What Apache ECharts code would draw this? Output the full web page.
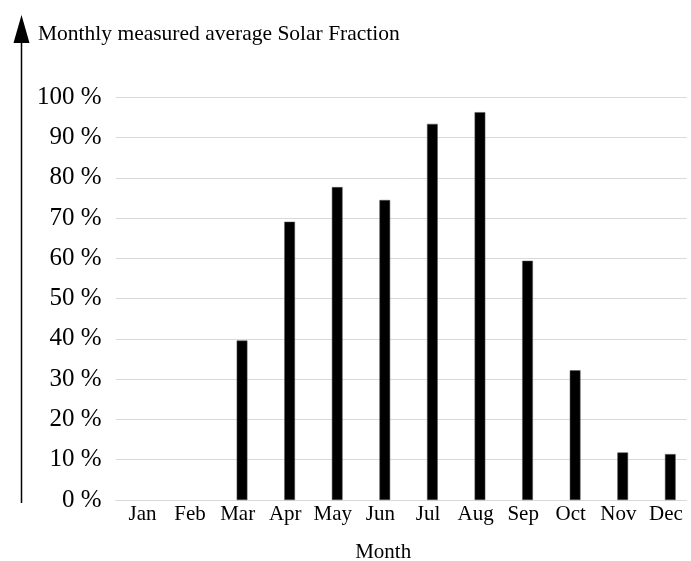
<!DOCTYPE html>
<html>
<head>
<meta charset="utf-8">
<script src="https://cdn.jsdelivr.net/npm/echarts@6/dist/echarts.min.js"></script>
<style>
html,body{margin:0;padding:0;background:#fff;}
#chart{width:691px;height:561px;}
</style>
</head>
<body>
<div id="chart"></div>
<script>
var months = ['Jan','Feb','Mar','Apr','May','Jun','Jul','Aug','Sep','Oct','Nov','Dec'];
var solarFraction = [null, null, 39.6, 69.1, 77.7, 74.5, 93.4, 96.3, 59.4, 32.2, 11.8, 11.4];
var emptySeries = [];
var yTicks = [0, 100, 10];

var FONT = '"Liberation Serif", "Times New Roman", serif';
var chart = echarts.init(document.getElementById('chart'), null, {renderer: 'canvas'});
chart.setOption({
  animation: false,
  backgroundColor: '#ffffff',
  title: {
    text: 'Monthly measured average Solar Fraction',
    left: 33,
    top: 18,
    textStyle: {fontFamily: FONT, fontSize: 21.5, fontWeight: 'normal', color: '#000'}
  },
  grid: {left: 115.7, right: 4.3, top: 97.3, bottom: 61, containLabel: false, outerBoundsMode: 'none'},
  xAxis: {
    type: 'category',
    data: months,
    axisLine: {show: true, lineStyle: {color: '#d9d9d9', width: 1}},
    axisTick: {show: false},
    axisLabel: {fontFamily: FONT, fontSize: 21, color: '#000', margin: 4, interval: 0, padding: [0, 0, 0, 6]},
    name: 'Month',
    nameLocation: 'middle',
    nameGap: 42,
    nameTextStyle: {fontFamily: FONT, fontSize: 21, color: '#000', padding: [0, 36, 0, 0]}
  },
  yAxis: {
    type: 'value',
    min: yTicks[0],
    max: yTicks[1],
    interval: yTicks[2],
    axisLine: {show: false},
    axisTick: {show: false},
    axisLabel: {formatter: '{value} %', fontFamily: FONT, fontSize: 25, color: '#000', margin: 14},
    splitLine: {show: true, lineStyle: {color: '#d9d9d9', width: 1}}
  },
  series: [
    {type: 'bar', name: 'spacer', data: emptySeries, barWidth: 10.7, barGap: '38%'},
    {type: 'bar', name: 'Solar Fraction', data: solarFraction, barWidth: 10.7, barGap: '38%',
     itemStyle: {color: '#000000', borderColor: '#555', borderWidth: 0.5}}
  ],
  graphic: [
    {type: 'line', shape: {x1: 21.5, y1: 40, x2: 21.5, y2: 503}, style: {stroke: '#000', lineWidth: 1.5}},
    {type: 'polygon', shape: {points: [[21.5, 15], [13.5, 43], [29.5, 43]]}, style: {fill: '#000'}}
  ]
});
</script>
</body>
</html>
